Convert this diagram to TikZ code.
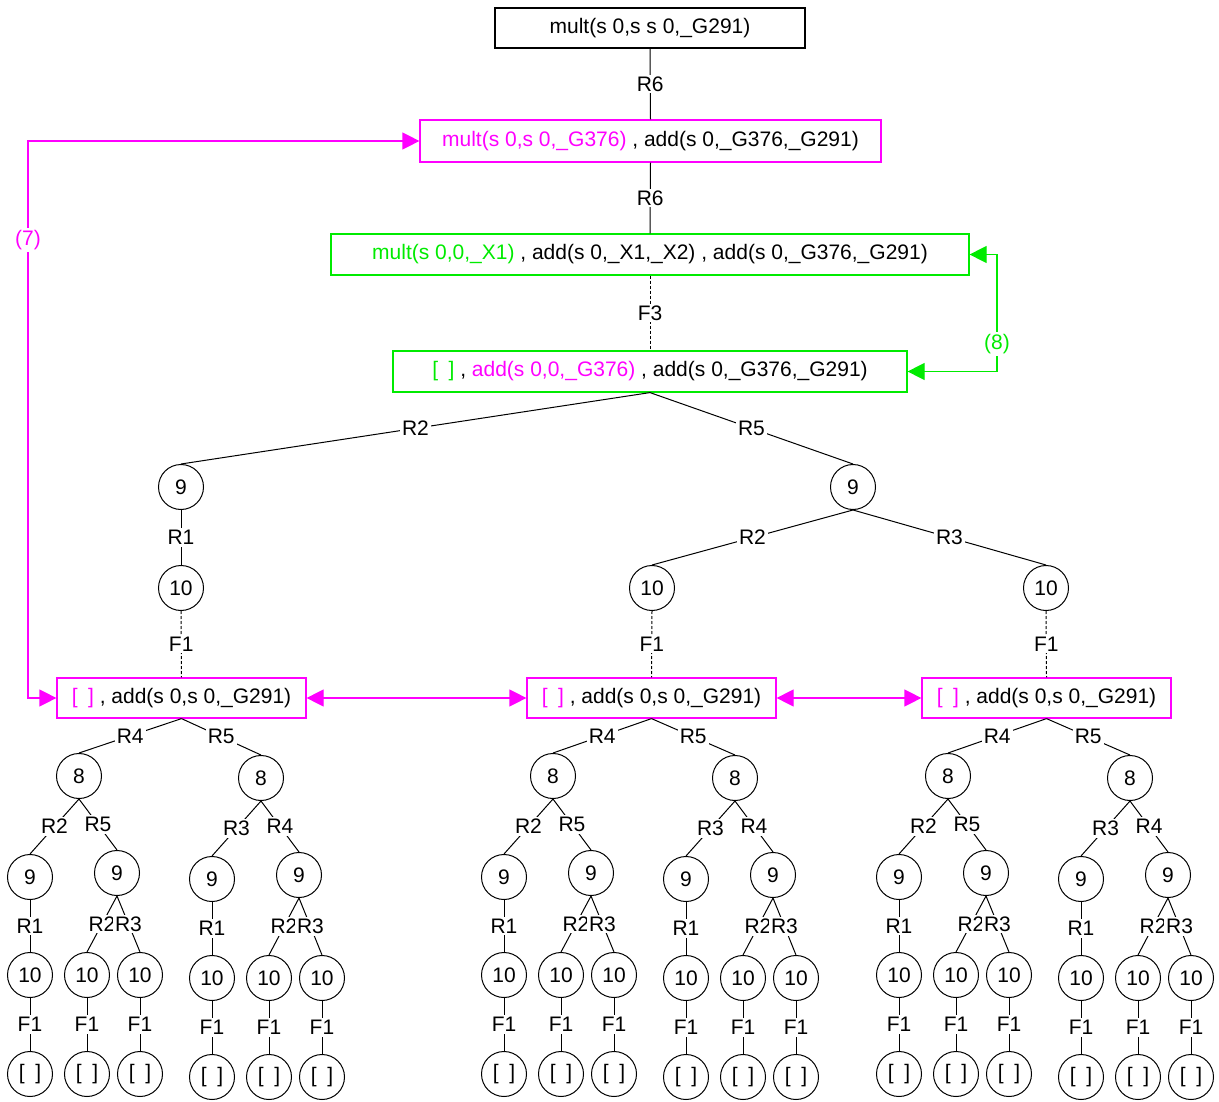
\documentclass[tikz,border=0pt]{standalone}
\usepackage{fontspec}
\setmainfont{Liberation Sans}
\usetikzlibrary{arrows.meta}
\definecolor{mag}{RGB}{255,0,255}
\definecolor{grn}{RGB}{0,235,0}
\newcommand{\figfont}{\fontsize{21}{25}\selectfont}
\newcommand{\nil}{[\hspace{0.5em}]}
\tikzset{
  goalbox/.style={rectangle, draw, line width=1.2pt, minimum height=40pt, inner sep=0pt, font=\figfont},
  magbox/.style={draw=mag},
  grnbox/.style={draw=grn},
  statenode/.style={circle, draw, line width=1pt, minimum size=45pt, inner sep=0pt, font=\figfont},
  rule/.style={fill=white, inner sep=2pt, font=\figfont},
  link/.style={line width=1pt},
  fail/.style={line width=1pt, dash pattern=on 3pt off 2pt},
  jump/.style={line width=1.2pt, {Triangle[length=17pt,width=17pt]}-{Triangle[length=17pt,width=17pt]}},
}

\begin{document}
\begin{tikzpicture}[x=1pt,y=-1pt]
  \useasboundingbox (0,0) rectangle (1219,1102);

  \node[goalbox, minimum width=310pt] (goal1) at (650,28) {mult(s 0,s s 0,\_G291)};
  \node[goalbox, magbox, minimum width=461pt, minimum height=42pt] (goal2) at (650.5,141) {\textcolor{mag}{mult(s 0,s 0,\_G376)} , add(s 0,\_G376,\_G291)};
  \node[goalbox, grnbox, minimum width=638pt, minimum height=41pt] (goal3) at (650,254.5) {\textcolor{grn}{mult(s 0,0,\_X1)} , add(s 0,\_X1,\_X2) , add(s 0,\_G376,\_G291)};
  \node[goalbox, grnbox, minimum width=514pt, minimum height=41pt] (goal4) at (650,371.5) {\textcolor{grn}{\nil} , \textcolor{mag}{add(s 0,0,\_G376)} , add(s 0,\_G376,\_G291)};

  \node[statenode] (nine1) at (181,487) {9};
  \node[statenode] (nine2) at (853,487) {9};
  \node[statenode] (ten1) at (181,588) {10};
  \node[statenode] (ten2) at (652,588) {10};
  \node[statenode] (ten3) at (1046,588) {10};

  \draw[link] (goal1.south) -- node[rule] {R6} (goal2.north);
  \draw[link] (goal2.south) -- node[rule] {R6} (goal3.north);
  \draw[fail] (goal3.south) -- node[rule] {F3} (goal4.north);
  \draw[link] (goal4.south) -- node[rule] {R2} (nine1.north);
  \draw[link] (goal4.south) -- node[rule] {R5} (nine2.north);
  \draw[link] (nine1.south) -- node[rule] {R1} (ten1.north);
  \draw[link] (nine2.south) -- node[rule] {R2} (ten2.north);
  \draw[link] (nine2.south) -- node[rule] {R3} (ten3.north);

  \foreach \b/\a/\n in {181.5/79/1, 651.5/553/2, 1046.5/948/3} {
    \node[goalbox, magbox, minimum width=249pt] (leaf\n) at (\b,698) {\textcolor{mag}{\nil} , add(s 0,s 0,\_G291)};
    \node[statenode] (eight\n a) at (\a,776) {8};
    \node[statenode] (eight\n b) at (\a+182,778) {8};
    \node[statenode] (nine\n a) at (\a-49,877) {9};
    \node[statenode] (nine\n b) at (\a+38,873) {9};
    \node[statenode] (nine\n c) at (\a+133,879) {9};
    \node[statenode] (nine\n d) at (\a+220,875) {9};
    \node[statenode] (ten\n a) at (\a-49,975) {10};
    \node[statenode] (ten\n b) at (\a+8,975) {10};
    \node[statenode] (ten\n c) at (\a+61,975) {10};
    \node[statenode] (ten\n d) at (\a+133,978) {10};
    \node[statenode] (ten\n e) at (\a+190,978) {10};
    \node[statenode] (ten\n f) at (\a+243,978) {10};
    \node[statenode] (done\n a) at (\a-49,1074) {\nil};
    \node[statenode] (done\n b) at (\a+8,1074) {\nil};
    \node[statenode] (done\n c) at (\a+61,1074) {\nil};
    \node[statenode] (done\n d) at (\a+133,1077) {\nil};
    \node[statenode] (done\n e) at (\a+190,1077) {\nil};
    \node[statenode] (done\n f) at (\a+243,1077) {\nil};

    \draw[link] (leaf\n.south) -- node[rule] {R4} (eight\n a.north);
    \draw[link] (leaf\n.south) -- node[rule] {R5} (eight\n b.north);
    \draw[link] (eight\n a.south) -- node[rule] {R2} (nine\n a.north);
    \draw[link] (eight\n a.south) -- node[rule] {R5} (nine\n b.north);
    \draw[link] (eight\n b.south) -- node[rule] {R3} (nine\n c.north);
    \draw[link] (eight\n b.south) -- node[rule] {R4} (nine\n d.north);
    \draw[link] (nine\n a.south) -- node[rule] {R1} (ten\n a.north);
    \draw[link] (nine\n b.south) -- node[rule] {R2} (ten\n b.north);
    \draw[link] (nine\n b.south) -- node[rule] {R3} (ten\n c.north);
    \draw[link] (nine\n c.south) -- node[rule] {R1} (ten\n d.north);
    \draw[link] (nine\n d.south) -- node[rule] {R2} (ten\n e.north);
    \draw[link] (nine\n d.south) -- node[rule] {R3} (ten\n f.north);
    \foreach \k in {a,b,c,d,e,f}
      \draw[link] (ten\n\k.south) -- node[rule] {F1} (done\n\k.north);
  }

  \draw[fail] (ten1.south) -- node[rule] {F1} (leaf1.north);
  \draw[fail] (ten2.south) -- node[rule] {F1} (leaf2.north);
  \draw[fail] (ten3.south) -- node[rule] {F1} (leaf3.north);

  % loops back to earlier goals
  \coordinate (bend7a) at (28,141);
  \coordinate (bend7b) at (28,698);
  \coordinate (bend8a) at (997,254.5);
  \coordinate (bend8b) at (997,371.5);
  \draw[jump, mag] (goal2.west) -- (bend7a) -- node[rule, text=mag, pos=0.178] {(7)} (bend7b) -- (leaf1.west);
  \draw[jump, grn] (goal3.east) -- (bend8a) -- node[rule, text=grn, pos=0.765] {(8)} (bend8b) -- (goal4.east);
  \draw[jump, mag] (leaf1.east) -- (leaf2.west);
  \draw[jump, mag] (leaf2.east) -- (leaf3.west);
\end{tikzpicture}
\end{document}
